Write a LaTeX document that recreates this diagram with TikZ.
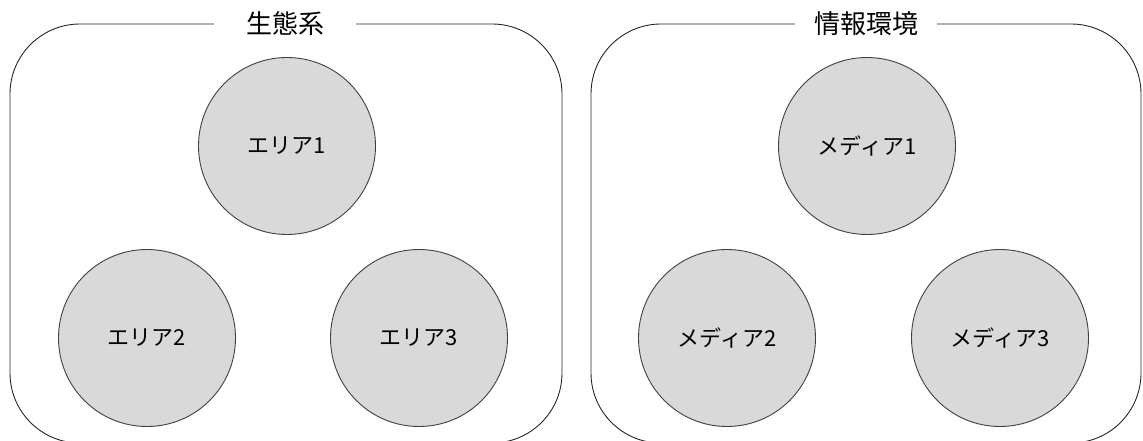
\documentclass[tikz,border=0pt]{standalone}
\usepackage{fontspec}
\setmainfont{Noto Sans CJK JP}
\begin{document}
\begin{tikzpicture}[x=1pt,y=-1pt,
  groupbox/.style={draw=black!85, line width=0.9pt, rounded corners=70pt},
  grouptitle/.style={fill=white, minimum width=142pt, inner sep=0pt, font=\fontsize{26}{30}\selectfont},
  member/.style={circle, draw=black!75, fill=black!15, line width=0.9pt, minimum size=177pt, inner sep=0pt, font=\fontsize{22}{26}\selectfont}]
\useasboundingbox (0,0) rectangle (1143,441);
\draw[groupbox] (10,24) rectangle (562,443);
\draw[groupbox] (591,24) rectangle (1141,443);
\node[grouptitle] (t1) at (285,24) {生態系};
\node[grouptitle] (t2) at (866,24) {情報環境};
\node[member] (a1) at (287,146) {エリア1};
\node[member] (a2) at (147,338) {エリア2};
\node[member] (a3) at (419,338) {エリア3};
\node[member] (m1) at (867,146) {メディア1};
\node[member] (m2) at (727,338) {メディア2};
\node[member] (m3) at (1000,338) {メディア3};
\end{tikzpicture}
\end{document}
